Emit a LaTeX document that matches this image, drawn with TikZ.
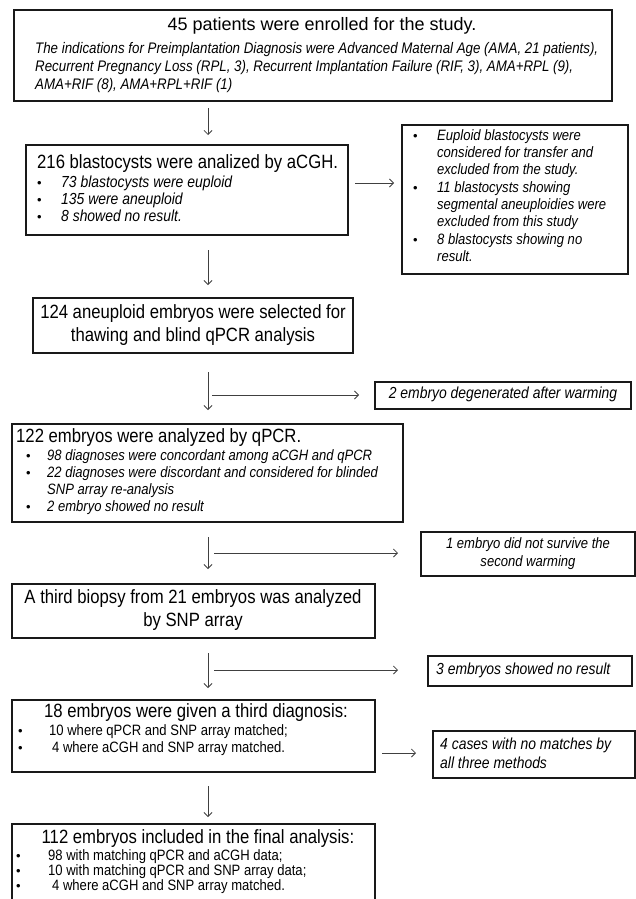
\documentclass[tikz,border=0pt]{standalone}
\usepackage{fontspec}
\setmainfont{Liberation Sans}
\newfontfamily\cnd[FakeStretch=0.87]{Liberation Sans}
\usetikzlibrary{arrows.meta}
\begin{document}
\begin{tikzpicture}[x=1pt,y=-1pt,
  box/.style={draw=black!90, line width=1.1pt, inner sep=0pt, outer sep=0pt, anchor=north west},
  txt/.style={inner sep=0pt, text height=0.7em, text depth=0.1em},
  tl/.style={txt, font=\cnd\fontsize{19.2}{22}\selectfont},
  tlb/.style={txt, font=\fontsize{18}{21}\selectfont},
  it/.style={txt, font=\cnd\itshape\fontsize{15}{18}\selectfont},
  ita/.style={txt, font=\cnd\itshape\fontsize{15.3}{18}\selectfont},
  itb/.style={txt, font=\cnd\itshape\fontsize{16}{19}\selectfont},
  rm/.style={txt, font=\cnd\fontsize{15}{18}\selectfont},
  dot/.style={txt, font=\fontsize{13}{16}\selectfont},
  arr/.style={draw=black!75, line width=0.8pt, -{Straight Barb[length=4pt,width=8pt]}}]
\useasboundingbox (0,0) rectangle (636,899);
\clip (0,0) rectangle (636,899);
\fill[white] (0,0) rectangle (636,899);

% boxes
\node[box, minimum width=598pt, minimum height=91pt] (b1) at (14,10) {};
\node[box, minimum width=322pt, minimum height=90pt] (b2) at (26,145) {};
\node[box, minimum width=226pt, minimum height=149pt] (rA) at (402,125) {};
\node[box, minimum width=320pt, minimum height=55pt] (b3) at (33,298) {};
\node[box, minimum width=256pt, minimum height=27pt] (r3) at (375,382) {};
\node[box, minimum width=391pt, minimum height=98pt] (b4) at (12,424) {};
\node[box, minimum width=214pt, minimum height=44pt] (r4) at (421,532) {};
\node[box, minimum width=363pt, minimum height=54pt] (b5) at (12,584) {};
\node[box, minimum width=204pt, minimum height=30pt] (r5) at (428,656) {};
\node[box, minimum width=363pt, minimum height=72pt] (b6) at (12,700) {};
\node[box, minimum width=202pt, minimum height=47pt] (r6) at (433,731) {};
\node[box, minimum width=363pt, minimum height=90pt] (b7) at (12,824) {};

% box 1 text
\node[tlb] (t1) at (322,28) {45 patients were enrolled for the study.};
\node[ita, anchor=west] (t1a) at (35,50) {The indications for Preimplantation Diagnosis were Advanced Maternal Age (AMA, 21 patients),};
\node[ita, anchor=west] (t1b) at (35,68) {Recurrent Pregnancy Loss (RPL, 3), Recurrent Implantation Failure (RIF, 3), AMA+RPL (9),};
\node[ita, anchor=west] (t1c) at (35,86) {AMA+RIF (8), AMA+RPL+RIF (1)};

% box 2 text
\node[tl, anchor=west] (t2) at (37,165) {216 blastocysts were analized by aCGH.};
\node[dot, anchor=west] (d2a) at (37,184) {•};
\node[dot, anchor=west] (d2b) at (37,201) {•};
\node[dot, anchor=west] (d2c) at (37,218) {•};
\node[itb, anchor=west] (t2a) at (61,184) {73 blastocysts were euploid};
\node[itb, anchor=west] (t2b) at (61,201) {135 were aneuploid};
\node[itb, anchor=west] (t2c) at (61,218) {8 showed no result.};

% right box A
\node[dot, anchor=west] (dAa) at (413,137) {•};
\node[dot, anchor=west] (dAb) at (413,189) {•};
\node[dot, anchor=west] (dAc) at (413,241) {•};
\node[it, anchor=west] (tA1) at (437,137) {Euploid blastocysts were};
\node[it, anchor=west] (tA2) at (437,154.3) {considered for transfer and};
\node[it, anchor=west] (tA3) at (437,171.6) {excluded from the study.};
\node[it, anchor=west] (tA4) at (437,189) {11 blastocysts showing};
\node[it, anchor=west] (tA5) at (437,206.3) {segmental aneuploidies were};
\node[it, anchor=west] (tA6) at (437,223.6) {excluded from this study};
\node[it, anchor=west] (tA7) at (437,241) {8 blastocysts showing no};
\node[it, anchor=west] (tA8) at (437,258.3) {result.};

% box 3 text
\node[tl] (t3a) at (193,315) {124 aneuploid embryos were selected for};
\node[tl] (t3b) at (193,338) {thawing and blind qPCR analysis};

% right box 3
\node[itb] (tr3) at (503,395) {2 embryo degenerated after warming};

% box 4 text
\node[tl, anchor=west] (t4) at (16,439) {122 embryos were analyzed by qPCR.};
\node[dot, anchor=west] (d4a) at (26,457) {•};
\node[dot, anchor=west] (d4b) at (26,474) {•};
\node[dot, anchor=west] (d4c) at (26,508) {•};
\node[it, anchor=west] (t4a) at (47,457) {98 diagnoses were concordant among aCGH and qPCR};
\node[it, anchor=west] (t4b) at (47,474) {22 diagnoses were discordant and considered for blinded};
\node[it, anchor=west] (t4c) at (47,491) {SNP array re-analysis};
\node[it, anchor=west] (t4d) at (47,508) {2 embryo showed no result};

% right box 4
\node[it] (tr4a) at (528,545) {1 embryo did not survive the};
\node[it] (tr4b) at (528,563) {second warming};

% box 5 text
\node[tl] (t5a) at (193,600) {A third biopsy from 21 embryos was analyzed};
\node[tl] (t5b) at (193,623) {by SNP array};

% right box 5
\node[itb, anchor=west] (tr5) at (436,671) {3 embryos showed no result};

% box 6 text
\node[tl] (t6) at (196,714) {18 embryos were given a third diagnosis:};
\node[dot, anchor=west] (d6a) at (18,732) {•};
\node[dot, anchor=west] (d6b) at (18,749) {•};
\node[rm, anchor=west] (t6a) at (49,732) {10 where qPCR and SNP array matched;};
\node[rm, anchor=west] (t6b) at (52,749) {4 where aCGH and SNP array matched.};

% right box 6
\node[itb, anchor=west] (tr6a) at (440,746) {4 cases with no matches by};
\node[itb, anchor=west] (tr6b) at (440,765) {all three methods};

% box 7 text
\node[tl] (t7) at (198,840) {112 embryos included in the final analysis:};
\node[dot, anchor=west] (d7a) at (16,857) {•};
\node[dot, anchor=west] (d7b) at (16,872) {•};
\node[dot, anchor=west] (d7c) at (16,887) {•};
\node[rm, anchor=west] (t7a) at (48,857) {98 with matching qPCR and aCGH data;};
\node[rm, anchor=west] (t7b) at (48,872) {10 with matching qPCR and SNP array data;};
\node[rm, anchor=west] (t7c) at (52,887) {4 where aCGH and SNP array matched.};

% arrow geometry
\coordinate (ax) at (208,0);
\coordinate (h2) at (355,183);
\coordinate (h3) at (212,395);
\coordinate (h4) at (214,553);
\coordinate (h5) at (214,670);
\coordinate (h6) at (382,753);

\draw[arr, shorten <=7pt, shorten >=10pt] (b1.south -| ax) -- (b2.north -| ax);
\draw[arr, shorten <=15pt, shorten >=13pt] (b2.south -| ax) -- (b3.north -| ax);
\draw[arr, shorten <=19pt, shorten >=14pt] (b3.south -| ax) -- (b4.north -| ax);
\draw[arr, shorten <=15pt, shorten >=15pt] (b4.south -| ax) -- (b5.north -| ax);
\draw[arr, shorten <=15pt, shorten >=12pt] (b5.south -| ax) -- (b6.north -| ax);
\draw[arr, shorten <=14pt, shorten >=7pt] (b6.south -| ax) -- (b7.north -| ax);

\draw[arr, shorten >=8pt] (h2) -- (rA.west |- h2);
\draw[arr, shorten >=16pt] (h3) -- (r3.west |- h3);
\draw[arr, shorten >=23pt] (h4) -- (r4.west |- h4);
\draw[arr, shorten >=30pt] (h5) -- (r5.west |- h5);
\draw[arr, shorten >=17pt] (h6) -- (r6.west |- h6);
\end{tikzpicture}
\end{document}
